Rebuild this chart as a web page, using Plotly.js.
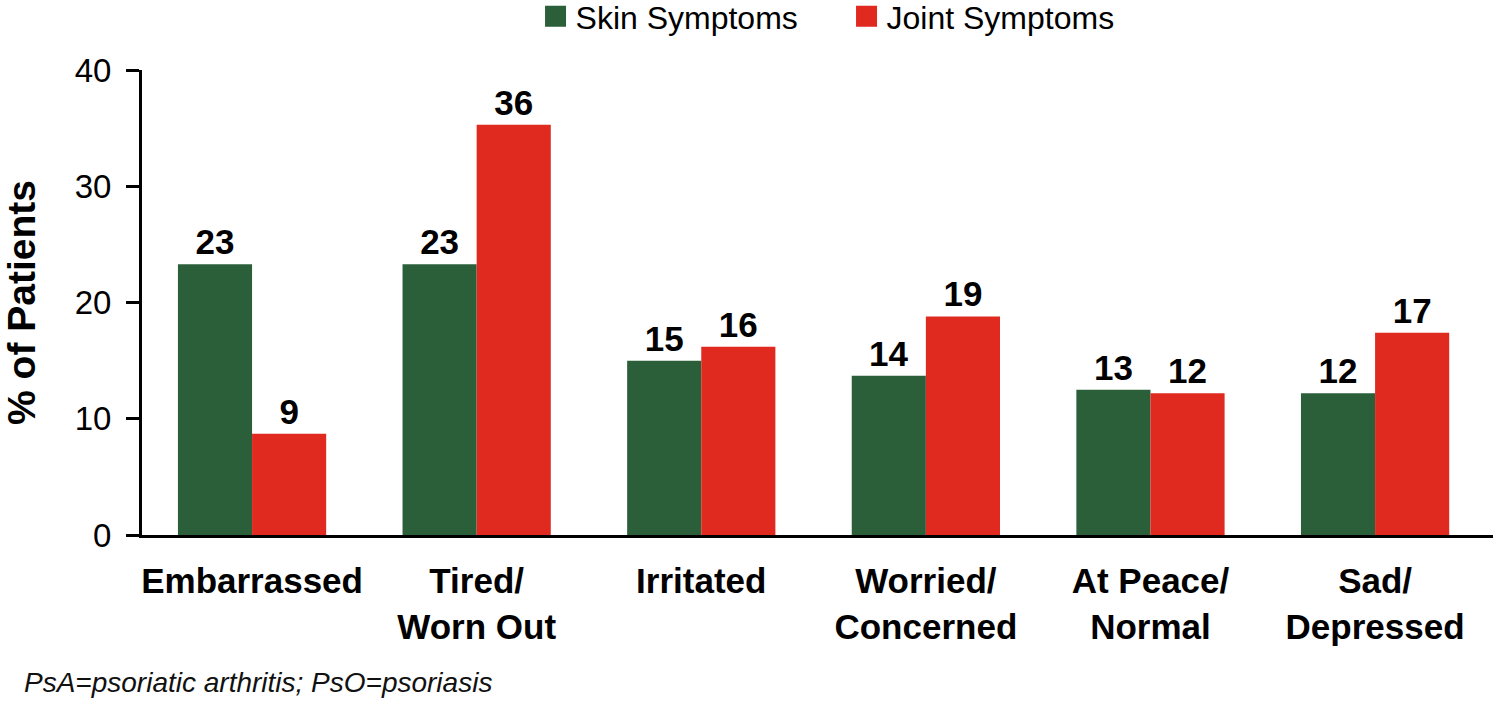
<!DOCTYPE html>
<html>
<head>
<meta charset="utf-8">
<script src="https://cdn.plot.ly/plotly-3.0.1.min.js"></script>
<style>
html,body{margin:0;padding:0;background:#fff;}
#chart{width:1498px;height:706px;}
</style>
</head>
<body>
<div id="chart"></div>
<script>
const categories = ["Embarrassed", "Tired/<br>Worn Out", "Irritated", "Worried/<br>Concerned", "At Peace/<br>Normal", "Sad/<br>Depressed"];
const skinValues = [23.3, 23.3, 15.0, 13.7, 12.5, 12.2];
const jointValues = [8.7, 35.3, 16.2, 18.8, 12.2, 17.4];
const skinLabels = ["23", "23", "15", "14", "13", "12"];
const jointLabels = ["9", "36", "16", "19", "12", "17"];
const seriesNames = ["Skin Symptoms", "Joint Symptoms"];
const yTicks = [0, 10, 20, 30, 40];
const footnote = "PsA=psoriatic arthritis; PsO=psoriasis";

const GREEN = "#2b5f3a";
const RED = "#e0291f";
const FONT = "Liberation Sans, Arial, sans-serif";

const labelFont = {family: FONT, size: 35, color: "#000", weight: "bold"};

const traces = [
  {
    type: "bar", x: categories, y: skinValues, name: seriesNames[0],
    marker: {color: GREEN}, text: skinLabels, textposition: "outside",
    textfont: labelFont, cliponaxis: false, showlegend: false, hoverinfo: "skip"
  },
  {
    type: "bar", x: categories, y: jointValues, name: seriesNames[1],
    marker: {color: RED}, text: jointLabels, textposition: "outside",
    textfont: labelFont, cliponaxis: false, showlegend: false, hoverinfo: "skip"
  },
  {
    type: "scatter", mode: "markers", x: [categories[0]], y: [null], name: seriesNames[0],
    marker: {symbol: "square", size: 16, color: GREEN, line: {color: GREEN, width: 5}},
    showlegend: true, hoverinfo: "skip"
  },
  {
    type: "scatter", mode: "markers", x: [categories[0]], y: [null], name: seriesNames[1],
    marker: {symbol: "square", size: 16, color: RED, line: {color: RED, width: 5}},
    showlegend: true, hoverinfo: "skip"
  }
];

const layout = {
  width: 1498, height: 706,
  margin: {l: 142, r: 5, t: 70, b: 171, autoexpand: false},
  paper_bgcolor: "#fff", plot_bgcolor: "#fff",
  barmode: "group", bargap: 0.34, bargroupgap: 0,
  font: {family: FONT, color: "#000"},
  showlegend: true,
  legend: {
    orientation: "h", x: 0.2913, xanchor: "left", y: 1.115, yanchor: "middle",
    font: {family: FONT, size: 32, color: "#000"}, itemwidth: 30,
    entrywidth: 266, entrywidthmode: "pixels",
    bgcolor: "rgba(0,0,0,0)"
  },
  xaxis: {
    type: "category", range: [-0.49, 5.525], fixedrange: true,
    showline: true, linecolor: "#000", linewidth: 3,
    showgrid: false, zeroline: false,
    ticks: "outside", ticklen: 13, tickcolor: "rgba(0,0,0,0)",
    tickfont: {family: FONT, size: 35, color: "#000", weight: "bold"},
    automargin: false
  },
  yaxis: {
    range: [0, 40], fixedrange: true,
    tickvals: yTicks, ticktext: yTicks.map(String),
    showline: true, linecolor: "#000", linewidth: 3,
    showgrid: false, zeroline: false,
    ticks: "outside", ticklen: 13, tickwidth: 3, tickcolor: "#000",
    ticklabelstandoff: 8,
    tickfont: {family: FONT, size: 33, color: "#000"},
    title: {text: "% of Patients", standoff: 32, font: {family: FONT, size: 39, color: "#000", weight: "bold"}},
    automargin: false
  },
  annotations: [
    {
      text: "<i>" + footnote + "</i>", xref: "paper", yref: "paper",
      x: -0.089, y: -0.318, xanchor: "left", yanchor: "middle", showarrow: false,
      font: {family: FONT, size: 28, color: "#111"}
    }
  ]
};

Plotly.newPlot("chart", traces, layout, {displayModeBar: false, staticPlot: true});
</script>
</body>
</html>
